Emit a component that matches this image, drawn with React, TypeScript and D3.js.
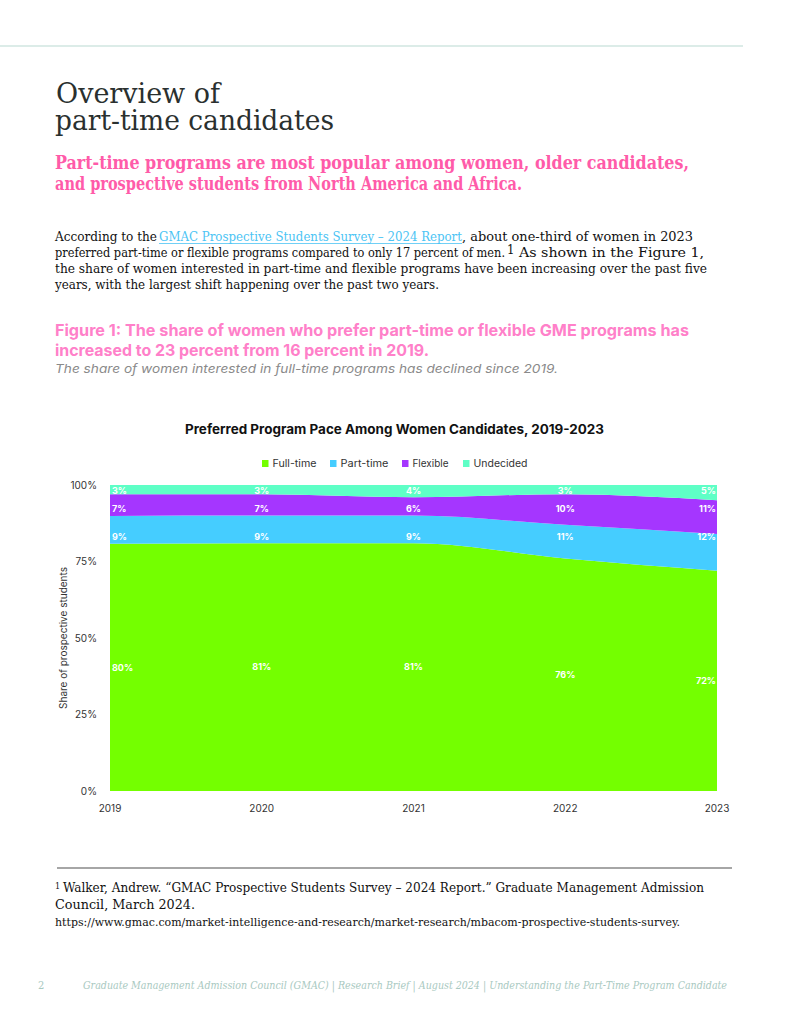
import React from 'react';
import * as d3 from 'd3';

// chart data
const years = [2019, 2020, 2021, 2022, 2023];
const seriesNames = ['Full-time', 'Part-time', 'Flexible', 'Undecided'];
const fullTime = [80, 81, 81, 76, 72];
const partTime = [9, 9, 9, 11, 12];
const flexible = [7, 7, 6, 10, 11];
const undecided = [3, 3, 4, 3, 5];
const seriesColors = ['#74ff00', '#45cdff', '#a536ff', '#5effc6'];
const yTickValues = [0, 0.25, 0.5, 0.75, 1];

const rows = years.map((year, i) => ({
  year,
  'Full-time': fullTime[i],
  'Part-time': partTime[i],
  Flexible: flexible[i],
  Undecided: undecided[i],
}));

const serif = "'DejaVu Serif Condensed', 'DejaVu Serif', serif";
const sans = "Inter, 'Noto Sans', sans-serif";

const T = ({ x, y, w, size, children, ...rest }: any) => (
  <text x={x} y={y} fontSize={size} textLength={w} lengthAdjust="spacingAndGlyphs" {...rest}>
    {children}
  </text>
);

const App = () => {
  const margin = { left: 110, right: 717, top: 485, bottom: 791 };
  const x = d3.scaleLinear().domain([2019, 2023]).range([margin.left, margin.right]);
  const y = d3.scaleLinear().domain([0, 1]).range([margin.bottom, margin.top]);

  const stacked = d3
    .stack<any>()
    .keys(seriesNames)
    .offset(d3.stackOffsetExpand)(rows);

  const area = d3
    .area<any>()
    .x((d) => x(d.data.year))
    .y0((d) => y(d[0]))
    .y1((d) => y(d[1]))
    .curve(d3.curveMonotoneX);

  // the bottom band's labels sit mid-band per year; thinner bands keep one height
  const labelY = (s: any, j: number) => {
    if (s.index === 0) return y((s[j][0] + s[j][1]) / 2);
    return y(d3.mean(s, (d: any) => (d[0] + d[1]) / 2) as number);
  };

  const legendX = [262, 330, 402, 463];
  const legendW = [44, 48, 36, 54];

  return (
    <svg width={791} height={1024} style={{ position: 'absolute', left: 0, top: 0 }}>
      <rect width={791} height={1024} fill="#fff" />
      <line x1={0} x2={743} y1={46} y2={46} stroke="#b9d9d1" strokeWidth={1} />

      {/* heading */}
      <g fill="#2a302f" fontFamily={serif} fontWeight={300}>
        <T x={56} y={103} w={164} size={28}>Overview of</T>
        <T x={55} y={130} w={279} size={28}>part-time candidates</T>
      </g>
      <g fill="#ff5ba9" fontFamily={serif} fontWeight={700}>
        <T x={55} y={169} w={634} size={18}>Part-time programs are most popular among women, older candidates,</T>
        <T x={55} y={190} w={467} size={18}>and prospective students from North America and Africa.</T>
      </g>

      {/* body paragraph */}
      <g fill="#111" fontFamily={serif}>
        <T x={55} y={241} w={102} size={13}>According to the</T>
        <T x={159} y={241} w={303} size={13} fill="#4cc4f4">GMAC Prospective Students Survey – 2024 Report</T>
        <line x1={159} x2={462} y1={243.5} y2={243.5} stroke="#4cc4f4" strokeWidth={0.8} />
        <T x={462} y={241} w={231} size={13}>, about one-third of women in 2023</T>
        <T x={55} y={257} w={450} size={13}>preferred part-time or flexible programs compared to only 17 percent of men.</T>
        <text x={507} y={254} fontSize={13}>1</text>
        <T x={519} y={257} w={185} size={13}>As shown in the Figure 1,</T>
        <T x={55} y={273} w={652} size={13}>the share of women interested in part-time and flexible programs have been increasing over the past five</T>
        <T x={55} y={289} w={384} size={13}>years, with the largest shift happening over the past two years.</T>
      </g>

      {/* figure caption */}
      <g fill="#ff80c9" fontFamily={sans} fontWeight={700}>
        <T x={55} y={336} w={634} size={16}>Figure 1: The share of women who prefer part-time or flexible GME programs has</T>
        <T x={55} y={356} w={374} size={16}>increased to 23 percent from 16 percent in 2019.</T>
      </g>
      <T x={55} y={373} w={503} size={12} fill="#8a8a8a" fontFamily={sans} fontStyle="italic">
        The share of women interested in full-time programs has declined since 2019.
      </T>

      {/* chart */}
      <T x={185} y={434} w={419} size={13} fill="#111" fontFamily={sans} fontWeight={700}>
        Preferred Program Pace Among Women Candidates, 2019-2023
      </T>
      <g fontFamily={sans} fontSize={10} fill="#333">
        {seriesNames.map((name, i) => (
          <g key={name}>
            <rect x={legendX[i]} y={460} width={6.5} height={7} fill={seriesColors[i]} />
            <T x={legendX[i] + 10.5} y={466.5} w={legendW[i]} size={10}>{name}</T>
          </g>
        ))}
      </g>

      {stacked.map((s, i) => (
        <path key={s.key} d={area(s) || ''} fill={seriesColors[i]} />
      ))}

      {/* value labels */}
      <g fontFamily={sans} fontSize={9} fontWeight={700} fill="#fff">
        {stacked.map((s) =>
          s.map((d, j) => {
            const anchor = j === 0 ? 'start' : j === years.length - 1 ? 'end' : 'middle';
            const dx = j === 0 ? 2 : j === years.length - 1 ? -1 : 0;
            return (
              <text key={s.key + j} x={x(d.data.year) + dx} y={labelY(s, j)} dy="0.35em" textAnchor={anchor}>
                {(d.data as any)[s.key]}%
              </text>
            );
          })
        )}
      </g>

      {/* axes */}
      <g fontFamily={sans} fontSize={10} fill="#333">
        {yTickValues.map((t) => (
          <text key={t} x={97} y={y(t)} dy="0.35em" textAnchor="end">
            {d3.format('.0%')(t)}
          </text>
        ))}
        {years.map((yr) => (
          <text key={yr} x={x(yr)} y={808} dy="0.35em" textAnchor="middle">
            {yr}
          </text>
        ))}
        <text transform={`translate(67,${(margin.top + margin.bottom) / 2}) rotate(-90)`} textAnchor="middle">
          Share of prospective students
        </text>
      </g>

      {/* footnote */}
      <line x1={57} x2={732} y1={868} y2={868} stroke="#888" strokeWidth={1.5} />
      <g fill="#111" fontFamily={serif}>
        <text x={55} y={889} fontSize={9}>1</text>
        <T x={63} y={892} w={641} size={13}>Walker, Andrew. “GMAC Prospective Students Survey – 2024 Report.” Graduate Management Admission</T>
        <T x={55} y={909} w={140} size={13}>Council, March 2024.</T>
        <T x={55} y={926} w={625} size={11}>https://www.gmac.com/market-intelligence-and-research/market-research/mbacom-prospective-students-survey.</T>
      </g>

      {/* page footer */}
      <g fill="#a9c9c1" fontFamily={serif}>
        <text x={38} y={989} fontSize={11}>2</text>
        <T x={83} y={989} w={644} size={11} fontStyle="italic">
          Graduate Management Admission Council (GMAC) | Research Brief | August 2024 | Understanding the Part-Time Program Candidate
        </T>
      </g>
    </svg>
  );
};

export default App;
